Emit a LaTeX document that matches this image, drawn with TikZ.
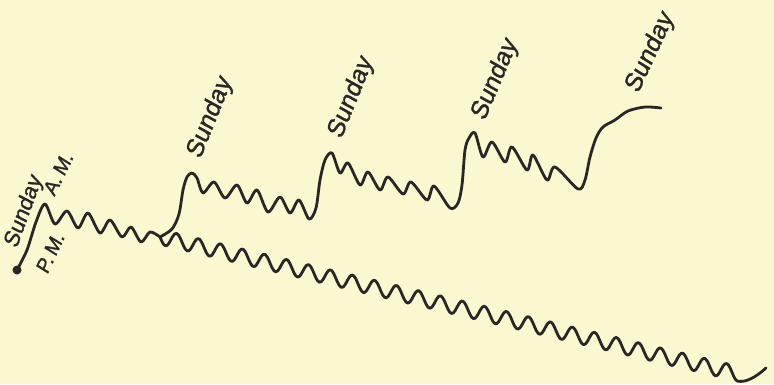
\documentclass[tikz,border=0pt]{standalone}
\usepackage{fontspec}
\usepackage{xcolor}
\usepackage{tikz}
\newfontfamily\dayfont{Liberation Sans}[FakeSlant=0.12,FakeBold=1.2]
\definecolor{paper}{HTML}{FAF8D1}
\definecolor{ink}{HTML}{2B2626}

\begin{document}
\begin{tikzpicture}[x=1pt,y=-1pt,line width=2.8pt,line cap=round,line join=round,
  every node/.style={font=\dayfont\fontsize{25}{25}\selectfont,text=ink,inner sep=0pt},
  tag/.style={font=\dayfont\fontsize{20}{20}\selectfont}]
  \fill[paper] (0,0) rectangle (774,384);
  \useasboundingbox (0,0) rectangle (774,384);
  \coordinate (start) at (17,270);
  \coordinate (fork) at (160,237);
  \fill[ink] (start) circle (4.5);
  % first day up to the fork
  \draw[ink] plot[smooth] coordinates {(17,270) (27,250) (36,222) (45,204) (55,224) (67,211)
    (78,228) (88,213) (100,233) (110,220) (122,237) (131,227) (141,242) (150,232) (160,237)};
  % long lower line
  \draw[ink] plot[domain=0:577.5,samples=320,smooth] ({160+\x},{237+0.2365*\x+7.5*sin(\x/22*360)})
    .. controls (745,382.8) and (755,378) .. (766,368);
  % upper line with the Sunday rises
  \draw[ink] plot[smooth] coordinates {(160,237) (172,229) (179,214) (183,190) (187,177) (192,173)
    (197,178) (203,193) (214,182) (225,198) (237,185) (247,203) (257,190) (268,212) (280,197)
    (290,213) (299,200) (309,219) (316,208) (320,180) (325,160) (332,153) (340,173) (348,163)
    (360,185) (368,172) (380,190) (388,177) (403,194) (411,182) (427,200) (434,186) (450,208)
    (458,203) (462,185) (465,150) (469,138) (475,133) (483,157) (492,142) (505,162) (512,147)
    (527,170) (533,155) (547,180) (555,167) (578,189) (585,180) (590,157) (596,138) (603,127)
    (615,120) (628,111) (645,107) (661,108)};
  % labels
  \node[font=\dayfont\fontsize{22}{22}\selectfont,rotate=70] (sun0) at (24,212) {Sunday};
  \node[tag,rotate=64] (am) at (58,174) {A.\,M.};
  \node[tag,rotate=65] (pm) at (50,253) {P.\,M.};
  \node[rotate=68] (sun1) at (210,118) {Sunday};
  \node[rotate=68] (sun2) at (351,98) {Sunday};
  \node[rotate=67] (sun3) at (495,80) {Sunday};
  \node[rotate=65] (sun4) at (650,53) {Sunday};
\end{tikzpicture}
\end{document}
